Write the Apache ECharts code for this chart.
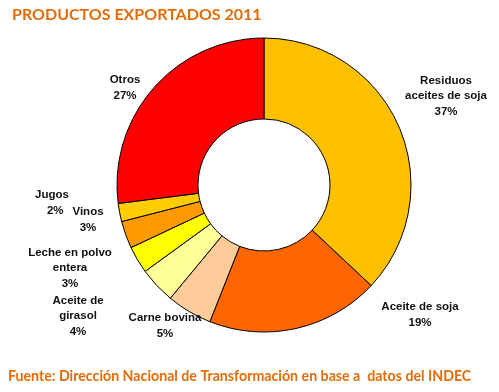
<!DOCTYPE html>
<html><head><meta charset="utf-8">
<script src="https://cdn.jsdelivr.net/npm/echarts@6/dist/echarts.min.js"></script>
<style>html,body{margin:0;padding:0;background:#fff}#c{width:499px;height:392px}</style>
</head><body><div id="c"></div>
<script>
const categories = ["Residuos\naceites de soja", "Aceite de soja", "Carne bovina", "Aceite de\ngirasol", "Leche en polvo\nentera", "Vinos", "Jugos", "Otros"];
const values = [37, 19, 5, 4, 3, 3, 2, 27];
const colors = ["#FFC000", "#FF6600", "#FFCC99", "#FFFF99", "#FFFF00", "#FF9900", "#FFCC00", "#FF0000"];
// label anchor positions (centre of label text block)
const labelPos = [[446, 96], [420, 315], [165, 326], [78, 316], [70, 268], [88, 220], [52, 203], [125, 88]];

const chart = echarts.init(document.getElementById('c'));
chart.setOption({
  animation: false,
  title: {
    text: 'PRODUCTOS EXPORTADOS 2011',
    left: 7, top: 2,
    textStyle: { fontFamily: 'Lato', fontWeight: 'bold', fontSize: 16, color: '#E46C0A' }
  },
  graphic: [{
    type: 'text', left: 8, top: 369,
    style: { text: 'Fuente: Dirección Nacional de Transformación en base a  datos del INDEC',
      font: 'bold 14.2px Lato', fill: '#E46C0A' }
  }],
  series: [{
    type: 'pie',
    center: [264, 185],
    radius: [66, 147],
    startAngle: 90,
    clockwise: true,
    data: categories.map((n, i) => ({ name: n, value: values[i], itemStyle: { color: colors[i] } })),
    itemStyle: { borderColor: '#000', borderWidth: 1 },
    label: {
      show: true, position: 'outside', overflow: 'none', alignTo: 'none',
      formatter: p => {
        if (p.dataIndex === 6) return 'Jugos\n  ' + p.value + '%';
        return p.name + '\n' + p.value + '%';
      },
      fontFamily: 'Liberation Sans', fontWeight: 'bold', fontSize: 11.5, lineHeight: 15.5,
      color: '#111', align: 'center'
    },
    labelLine: { show: false },
    labelLayout: p => {
      const pos = labelPos[p.dataIndex];
      return { x: pos[0], y: pos[1], align: 'center', verticalAlign: 'middle' };
    },
    emphasis: { disabled: true }
  }]
});
</script></body></html>
